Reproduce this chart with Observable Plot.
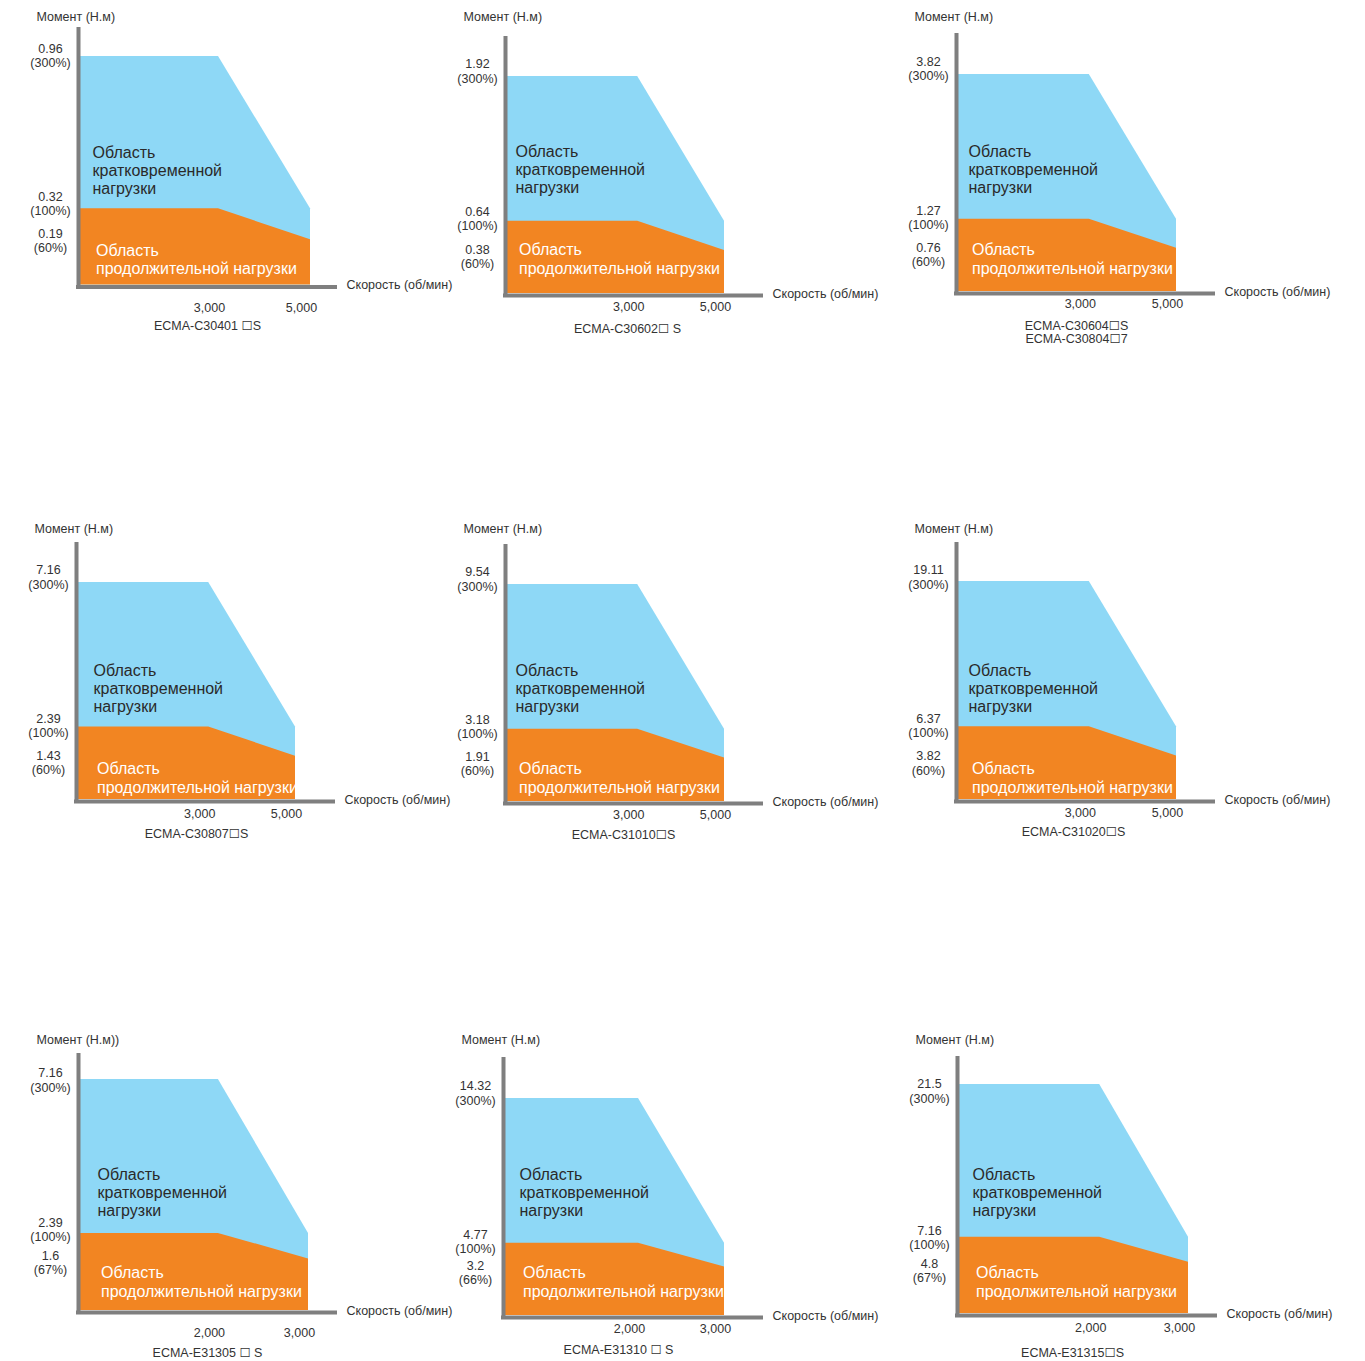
<!DOCTYPE html>
<html>
<head>
<meta charset="utf-8">
<script src="https://cdn.jsdelivr.net/npm/d3@7"></script>
<script src="https://cdn.jsdelivr.net/npm/@observablehq/plot@0.6"></script>
<style>
  html, body { margin: 0; padding: 0; background: #fff; overflow: hidden; }
  #page { position: relative; width: 1365px; height: 1361px; background: #fff; }
  .panel { position: absolute; }
</style>
</head>
<body>
<div id="page"></div>
<script>
// ---------- data ----------
const models = [
  "ECMA-C30401 ☐S", "ECMA-C30602☐ S", "ECMA-C30604☐S\nECMA-C30804☐7",
  "ECMA-C30807☐S", "ECMA-C31010☐S", "ECMA-C31020☐S",
  "ECMA-E31305 ☐ S", "ECMA-E31310 ☐ S", "ECMA-E31315☐S"
];
const torqueTitles = [
  "Момент (Н.м)", "Момент (Н.м)", "Момент (Н.м)",
  "Момент (Н.м)", "Момент (Н.м)", "Момент (Н.м)",
  "Момент (Н.м))", "Момент (Н.м)", "Момент (Н.м)"
];
const peakTorque  = [0.96, 1.92, 3.82, 7.16, 9.54, 19.11, 7.16, 14.32, 21.5];   // 300%
const ratedTorque = [0.32, 0.64, 1.27, 2.39, 3.18, 6.37, 2.39, 4.77, 7.16];    // 100%
const endTorque   = [0.19, 0.38, 0.76, 1.43, 1.91, 3.82, 1.6, 3.2, 4.8];       // at max speed
const endPct      = [60, 60, 60, 60, 60, 60, 67, 66, 67];
const kneeSpeed   = [3000, 3000, 3000, 3000, 3000, 3000, 2000, 2000, 2000];
const maxSpeed    = [5000, 5000, 5000, 5000, 5000, 5000, 3000, 3000, 3000];
const speedTitle  = "Скорость (об/мин)";
const peakRegionLabel = "Область\nкратковременной\nнагрузки";
const contRegionLabel = "Область\nпродолжительной нагрузки";

// ---------- layout (pixels inside each 450x340 panel) ----------
const colLeft = [20, 450, 900];
const rowTop = [0, 515, 1030];
// xExp: the schematic's speed axis is drawn slightly non-uniform in the E-series panels
// labDy: vertical nudges of the 300% / 100% / low torque labels
const layout = [
  {ox: 60, oy: 286.5, top: 27, right: 317, peak: 56, end: 290, tickDy: 21, xExp: 1,    titleDy: -11, labelDy: -115, labelDx: 12, capDx: 127, capDy: 36, labDy: [-1, -5, 1]},
  {ox: 57, oy: 295,   top: 36, right: 313, peak: 76, end: 274, tickDy: 11, xExp: 1,    titleDy: -20, labelDy: -124, labelDx: 8,  capDx: 120, capDy: 30, labDy: [-5.5, -3, 5.5]},
  {ox: 58, oy: 293,   top: 33, right: 315, peak: 74, end: 276, tickDy: 10, xExp: 1,    titleDy: -17, labelDy: -122, labelDx: 10, capDx: 118, capDy: 29, labDy: [-6, -1.5, 6.5]},
  {ox: 58, oy: 286,   top: 27, right: 315, peak: 67, end: 275, tickDy: 12, xExp: 1,    titleDy: -14, labelDy: -111, labelDx: 15, capDx: 118, capDy: 29, labDy: [-5.5, -2, 6]},
  {ox: 57, oy: 288,   top: 29, right: 313, peak: 69, end: 274, tickDy: 11, xExp: 1,    titleDy: -16, labelDy: -113, labelDx: 8,  capDx: 116, capDy: 28, labDy: [-5.5, -2.5, 5.5]},
  {ox: 58, oy: 286,   top: 27, right: 315, peak: 66, end: 276, tickDy: 11, xExp: 1,    titleDy: -14, labelDy: -111, labelDx: 10, capDx: 115, capDy: 27, labDy: [-4.5, -1, 7]},
  {ox: 60, oy: 282,   top: 23, right: 317, peak: 49, end: 288, tickDy: 20, xExp: 1.24, titleDy: -14, labelDy: -118, labelDx: 17, capDx: 127, capDy: 37, labDy: [0.5, -4, 3.5]},
  {ox: 55, oy: 287,   top: 27, right: 313, peak: 68, end: 274, tickDy: 11, xExp: 1.23, titleDy: -18, labelDy: -123, labelDx: 14, capDx: 113, capDy: 29, labDy: [-5.5, -2, 5.5]},
  {ox: 59, oy: 285,   top: 26, right: 317, peak: 54, end: 288, tickDy: 12, xExp: 1.21, titleDy: -17, labelDy: -121, labelDx: 13, capDx: 113, capDy: 34, labDy: [6.5, 0, 8.5]}
];
const W = 450, H = 340;
const BLUE = "#8ed8f6", ORANGE = "#f28522", AXIS = "#7f7f7f", INK = "#333333";
const SMALL = 12.5, BIG = 16;
const fmt = d3.format(",");

const page = document.getElementById("page");

for (let i = 0; i < 9; i++) {
  const L = layout[i];
  const peakCurve = [
    {s: 0, t: peakTorque[i]},
    {s: kneeSpeed[i], t: peakTorque[i]},
    {s: maxSpeed[i], t: ratedTorque[i]}
  ];
  const contCurve = [
    {s: 0, t: ratedTorque[i]},
    {s: kneeSpeed[i], t: ratedTorque[i]},
    {s: maxSpeed[i], t: endTorque[i]}
  ];
  const xScale = L.xExp === 1
    ? {axis: null, type: "linear", domain: [0, maxSpeed[i]], range: [L.ox, L.end]}
    : {axis: null, type: "pow", exponent: L.xExp, domain: [0, maxSpeed[i]], range: [L.ox, L.end]};
  const yLabel = (value, text, dy) => Plot.text([value], {
    x: 0, y: d => d, text: () => text, dx: -30, dy,
    textAnchor: "middle", lineAnchor: "middle", lineHeight: 1.13, fill: INK, fontSize: SMALL
  });
  const chart = Plot.plot({
    width: W,
    height: H,
    marginLeft: L.ox - 4,
    marginRight: W - L.right,
    marginTop: L.top,
    marginBottom: H - (L.oy + 2),
    style: {fontFamily: "'Liberation Sans', Arial, 'DejaVu Sans', sans-serif", fontSize: SMALL + "px", color: INK, background: "transparent", overflow: "visible"},
    x: xScale,
    y: {axis: null, domain: [0, peakTorque[i]], range: [L.oy - 2, L.peak]},
    marks: [
      Plot.areaY(peakCurve, {x: "s", y: "t", fill: BLUE}),
      Plot.areaY(contCurve, {x: "s", y: "t", fill: ORANGE}),
      Plot.ruleY([0], {stroke: AXIS, strokeWidth: 4, dy: 2}),
      Plot.ruleX([0], {stroke: AXIS, strokeWidth: 4, dx: -2}),
      // y tick labels
      yLabel(peakTorque[i], `${peakTorque[i]}\n(300%)`, L.labDy[0]),
      yLabel(ratedTorque[i], `${ratedTorque[i]}\n(100%)`, L.labDy[1]),
      yLabel(endTorque[i], `${endTorque[i]}\n(${endPct[i]}%)`, L.labDy[2]),
      // x tick labels
      Plot.text([kneeSpeed[i], maxSpeed[i]], {x: d => d, y: 0, text: d => fmt(d), dx: -9, dy: L.tickDy + 2,
        textAnchor: "middle", lineAnchor: "middle", fill: INK, fontSize: SMALL}),
      // axis titles
      Plot.text([torqueTitles[i]], {x: 0, frameAnchor: "top", text: d => d, dx: -44, dy: L.titleDy,
        textAnchor: "start", lineAnchor: "middle", fill: INK, fontSize: SMALL}),
      Plot.text([speedTitle], {y: 0, frameAnchor: "right", text: d => d, dx: 9,
        textAnchor: "start", lineAnchor: "middle", fill: INK, fontSize: SMALL}),
      // region labels
      Plot.text([peakRegionLabel], {x: 0, y: 0, text: d => d, dx: L.labelDx, dy: L.labelDy,
        textAnchor: "start", lineAnchor: "middle", lineHeight: 1.13, fill: "#2a2a2a", fontSize: BIG}),
      Plot.text([contRegionLabel], {x: 0, y: 0, text: d => d, dx: L.labelDx + 3.5, dy: L.labelDy + 89,
        textAnchor: "start", lineAnchor: "middle", lineHeight: 1.18, fill: "#ffffff", fontSize: BIG}),
      // model caption
      Plot.text([models[i]], {x: 0, y: 0, text: d => d, dx: L.capDx, dy: L.capDy,
        textAnchor: "middle", lineAnchor: "top", lineHeight: 1.05, fill: INK, fontSize: SMALL})
    ]
  });
  const div = document.createElement("div");
  div.className = "panel";
  div.style.left = colLeft[i % 3] + "px";
  div.style.top = rowTop[Math.floor(i / 3)] + "px";
  div.appendChild(chart);
  page.appendChild(div);
}
</script>
</body>
</html>
